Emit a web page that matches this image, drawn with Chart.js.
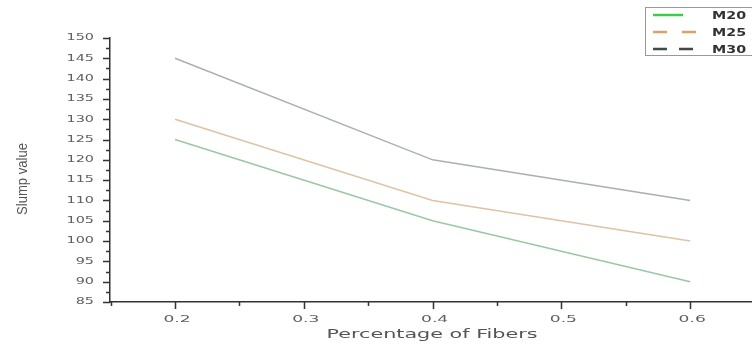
<!DOCTYPE html>
<html>
<head>
<meta charset="utf-8">
<script src="https://cdn.jsdelivr.net/npm/chart.js@4.4.0/dist/chart.umd.min.js"></script>
<style>
  html, body { margin: 0; padding: 0; background: #fff; overflow: hidden; }
  #wrap { position: relative; width: 752px; height: 346px; }
</style>
</head>
<body>
<div id="wrap"><canvas id="slump"></canvas></div>
<script>
// data
const fibers = [0.2, 0.4, 0.6];
const m20 = [125, 105, 90];
const m25 = [130, 110, 100];
const m30 = [145, 120, 110];
const seriesNames = ["M20", "M25", "M30"];
const xTicks = [0.2, 0.3, 0.4, 0.5, 0.6];
const yTicks = [85, 90, 95, 100, 105, 110, 115, 120, 125, 130, 135, 140, 145, 150];

const lineColors = ["#9cc7a4", "#dec3a6", "#aab0b0"];
const legendColors = ["#3dcc4a", "#d7a46c", "#3d4a48"];
const legendDash = [[], [14, 15], [14, 12]];

const toPoints = arr => arr.map((v, i) => ({ x: fibers[i], y: v }));

// text in the original is stretched sideways
function wideText(ctx, text, x, y, sx, align) {
  const w = ctx.measureText(text).width * sx;
  let left = x;
  if (align === 'right') left = x - w;
  if (align === 'center') left = x - w / 2;
  ctx.save();
  ctx.translate(left, y);
  ctx.scale(sx, 1);
  ctx.textAlign = 'left';
  ctx.fillText(text, 0, 0);
  ctx.restore();
}

const axisDecor = {
  id: 'axisDecor',
  afterDraw(chart) {
    const { ctx, chartArea, scales } = chart;
    const x = scales.x, y = scales.y;
    ctx.save();
    // outward ticks, major + minor
    ctx.strokeStyle = '#333';
    ctx.lineWidth = 1.5;
    ctx.beginPath();
    for (let v = 0.15; v <= 0.651; v += 0.05) {
      const px = Math.round(x.getPixelForValue(v)) + 0.5;
      const major = xTicks.some(t => Math.abs(t - v) < 1e-6);
      ctx.moveTo(px, chartArea.bottom);
      ctx.lineTo(px, chartArea.bottom + (major ? 7 : 4));
    }
    for (let v = 85; v <= 150; v += 2.5) {
      const py = Math.round(y.getPixelForValue(v)) + 0.5;
      const major = v % 5 === 0;
      ctx.moveTo(chartArea.left, py);
      ctx.lineTo(chartArea.left - (major ? 7 : 4), py);
    }
    ctx.stroke();

    // tick labels
    ctx.fillStyle = '#606060';
    ctx.font = '9px "DejaVu Sans"';
    ctx.textBaseline = 'middle';
    yTicks.forEach(v => wideText(ctx, String(v), 94, y.getPixelForValue(v), 1.6, 'right'));
    xTicks.forEach(v => wideText(ctx, v.toFixed(1), x.getPixelForValue(v) + 2, 320, 1.9, 'center'));

    // axis titles
    ctx.fillStyle = '#555';
    ctx.font = '12px "DejaVu Sans"';
    const tw = ctx.measureText('Percentage of Fibers').width;
    wideText(ctx, 'Percentage of Fibers', 432, 335, 211 / tw, 'center');
    ctx.save();
    ctx.translate(23, 179);
    ctx.rotate(-Math.PI / 2);
    ctx.font = '15px "Liberation Sans Narrow", "Liberation Sans"';
    const sw = ctx.measureText('Slump value').width;
    wideText(ctx, 'Slump value', 0, 0, 72 / sw, 'center');
    ctx.restore();

    // legend box at the top right, cut by the edge
    const bx = 645, by = 7, bw = 120, bh = 48;
    ctx.fillStyle = '#fff';
    ctx.fillRect(bx, by, bw, bh);
    ctx.strokeStyle = '#999';
    ctx.lineWidth = 1;
    ctx.strokeRect(bx + 0.5, by + 0.5, bw, bh);
    seriesNames.forEach((name, i) => {
      const ly = by + 8 + i * 17;
      ctx.strokeStyle = legendColors[i];
      ctx.lineWidth = 2.5;
      ctx.setLineDash(legendDash[i]);
      ctx.beginPath();
      ctx.moveTo(653, ly);
      ctx.lineTo(i === 0 ? 683 : 697, ly);
      ctx.stroke();
      ctx.setLineDash([]);
      ctx.fillStyle = '#333';
      ctx.font = 'bold 11px "DejaVu Sans"';
      ctx.textBaseline = 'middle';
      wideText(ctx, name, 712, ly + 1, 1.3, 'left');
    });
    ctx.restore();
  }
};

new Chart(document.getElementById('slump'), {
  type: 'line',
  data: {
    datasets: [
      { label: seriesNames[0], data: toPoints(m20), borderColor: lineColors[0] },
      { label: seriesNames[1], data: toPoints(m25), borderColor: lineColors[1] },
      { label: seriesNames[2], data: toPoints(m30), borderColor: lineColors[2] }
    ].map(d => Object.assign(d, { borderWidth: 1.5, pointRadius: 0, tension: 0, fill: false }))
  },
  options: {
    responsive: true,
    maintainAspectRatio: false,
    animation: false,
    layout: { padding: { top: 38, right: 0, left: 110, bottom: 44 } },
    plugins: { legend: { display: false }, tooltip: { enabled: false } },
    scales: {
      x: {
        type: 'linear',
        min: 0.1495,
        max: 0.648,
        grid: { display: false, drawTicks: false },
        border: { display: true, color: '#333', width: 1.5 },
        ticks: { display: false }
      },
      y: {
        min: 85,
        max: 150,
        grid: { display: false, drawTicks: false },
        border: { display: true, color: '#333', width: 1.5 },
        ticks: { display: false }
      }
    }
  },
  plugins: [axisDecor]
});
</script>
</body>
</html>
